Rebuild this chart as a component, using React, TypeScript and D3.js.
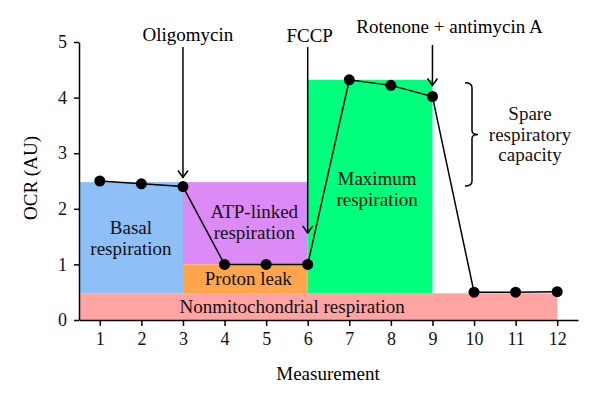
import React, {useEffect, useRef} from 'react';
import * as d3 from "d3";

const measurements = [1, 2, 3, 4, 5, 6, 7, 8, 9, 10, 11, 12];
const ocr = [2.5, 2.45, 2.4, 1.0, 1.0, 1.0, 4.32, 4.22, 4.02, 0.5, 0.5, 0.51];
const yTicks = [0, 1, 2, 3, 4, 5];

// levels of the shaded regions
const nonMitoLevel = 0.48;
const protonLeakLevel = 1.0;
const basalLevel = 2.48;
const maxLevel = 4.32;

const regionNames = ["Nonmitochondrial respiration", "Basal respiration", "ATP-linked respiration", "Proton leak", "Maximum respiration"];
const regionX = [[0.5, 12], [0.5, 3], [3, 6], [3, 6], [6, 9]];
const regionY = [[0, nonMitoLevel], [nonMitoLevel, basalLevel], [protonLeakLevel, basalLevel], [nonMitoLevel, protonLeakLevel], [nonMitoLevel, maxLevel]];
const regionColors = ["#ffa3a3", "#8ebff7", "#dc8af5", "#ffa64d", "#00ff7c"];

// injections
const injectionNames = ["Oligomycin", "FCCP", "Rotenone + antimycin A"];
const injectionAt = [3, 6, 9];

const FONT = "'Liberation Serif', 'Times New Roman', serif";
const FS = 19;

export default function App() {
    const ref = useRef<SVGSVGElement>(null);

    useEffect(() => {
        const svg = d3.select(ref.current);
        svg.selectAll("*").remove();

        const x = d3.scaleLinear().domain([0.5, 12.5]).range([79, 578]);
        const y = d3.scaleLinear().domain([0, 5]).range([320, 42]);

        // regions
        svg.append("g")
            .selectAll("rect")
            .data(regionNames)
            .enter()
            .append("rect")
            .attr("x", (d, i) => x(regionX[i][0]))
            .attr("width", (d, i) => x(regionX[i][1]) - x(regionX[i][0]))
            .attr("y", (d, i) => y(regionY[i][1]))
            .attr("height", (d, i) => y(regionY[i][0]) - y(regionY[i][1]))
            .attr("fill", (d, i) => regionColors[i]);

        // region labels (offsets tuned by eye)
        const labelOffsets = [[-26, 1.5], [0, 2], [9, 0], [3, 1], [7, 4]];
        regionNames.forEach((name, i) => {
            const cx = (x(regionX[i][0]) + x(regionX[i][1])) / 2 + labelOffsets[i][0];
            const cy = (y(regionY[i][0]) + y(regionY[i][1])) / 2 + labelOffsets[i][1];
            let lines = [name];
            if (i == 1 || i == 2 || i == 4) {
                lines = name.split(" ");
            }
            const t = svg.append("text")
                .attr("text-anchor", "middle")
                .attr("font-family", FONT)
                .attr("font-size", FS)
                .attr("fill", "#111");
            lines.forEach((l, k) => {
                t.append("tspan")
                    .attr("x", cx)
                    .attr("y", cy + (k - (lines.length - 1) / 2) * 20.5 + 5)
                    .text(l);
            });
        });

        // axes
        const xAxis = svg.append("g")
            .attr("transform", "translate(0,320)")
            .call(d3.axisBottom(x).tickValues(measurements).tickSizeInner(6).tickSizeOuter(0).tickPadding(6).tickFormat(d3.format("d")));
        const yAxis = svg.append("g")
            .attr("transform", "translate(79,0)")
            .call(d3.axisLeft(y).tickValues(yTicks).tickSizeInner(5).tickSizeOuter(0).tickPadding(7).tickFormat(d3.format("d")));
        [xAxis, yAxis].forEach(a => {
            a.attr("font-family", FONT).attr("font-size", 18);
            a.selectAll("path,line").attr("stroke", "#000").attr("stroke-width", 1.5);
            a.selectAll("text").attr("fill", "#111");
        });

        svg.append("text")
            .attr("x", 328).attr("y", 380)
            .attr("text-anchor", "middle")
            .attr("font-family", FONT).attr("font-size", FS)
            .text("Measurement");
        svg.append("text")
            .attr("transform", "translate(37,178) rotate(-90)")
            .attr("text-anchor", "middle")
            .attr("font-family", FONT).attr("font-size", FS)
            .text("OCR (AU)");

        // injection arrows
        const arrowTop = [47, 47, 45];
        const arrowTip = [y(ocr[2]) - 9, 233, y(ocr[8]) - 11];
        const labelDx = [5, 2, 17];
        const labelY = [41, 42, 33];
        injectionNames.forEach((name, i) => {
            const ax = x(injectionAt[i]);
            svg.append("line")
                .attr("x1", ax).attr("x2", ax)
                .attr("y1", arrowTop[i]).attr("y2", arrowTip[i])
                .attr("stroke", "#000").attr("stroke-width", 1.5);
            svg.append("path")
                .attr("d", `M ${ax - 5} ${arrowTip[i] - 7} L ${ax} ${arrowTip[i]} L ${ax + 5} ${arrowTip[i] - 7}`)
                .attr("fill", "none").attr("stroke", "#000").attr("stroke-width", 1.5);
            svg.append("text")
                .attr("x", ax + labelDx[i]).attr("y", labelY[i])
                .attr("text-anchor", "middle")
                .attr("font-family", FONT).attr("font-size", FS)
                .text(name);
        });

        // OCR trace
        const line = d3.line<number>()
            .x((d, i) => x(measurements[i]))
            .y(d => y(d));
        svg.append("path")
            .attr("d", line(ocr))
            .attr("fill", "none")
            .attr("stroke", "#000")
            .attr("stroke-width", 1.5);
        svg.append("g")
            .selectAll("circle")
            .data(ocr)
            .enter()
            .append("circle")
            .attr("cx", (d, i) => x(measurements[i]))
            .attr("cy", d => y(d))
            .attr("r", 5.5)
            .attr("fill", "#000");

        // spare capacity brace
        const bx = 472, bt = y(maxLevel) + 3, bb = y(basalLevel) + 4, bm = (bt + bb) / 2;
        svg.append("path")
            .attr("d", `M ${bx - 7} ${bt} Q ${bx} ${bt} ${bx} ${bt + 5} L ${bx} ${bm - 4} Q ${bx} ${bm} ${bx + 6} ${bm} Q ${bx} ${bm} ${bx} ${bm + 4} L ${bx} ${bb - 5} Q ${bx} ${bb} ${bx - 7} ${bb}`)
            .attr("fill", "none").attr("stroke", "#000").attr("stroke-width", 1.5);
        const spare = svg.append("text")
            .attr("text-anchor", "middle")
            .attr("font-family", FONT).attr("font-size", FS)
            .attr("fill", "#111");
        ["Spare", "respiratory", "capacity"].forEach((l, k) => {
            spare.append("tspan").attr("x", 530).attr("y", bm - 14 + k * 20.5).text(l);
        });
    }, []);

    return (
        <svg ref={ref} width={600} height={401}
             style={{position: "absolute", left: 0, top: 0, background: "#fff"}}/>
    );
}
